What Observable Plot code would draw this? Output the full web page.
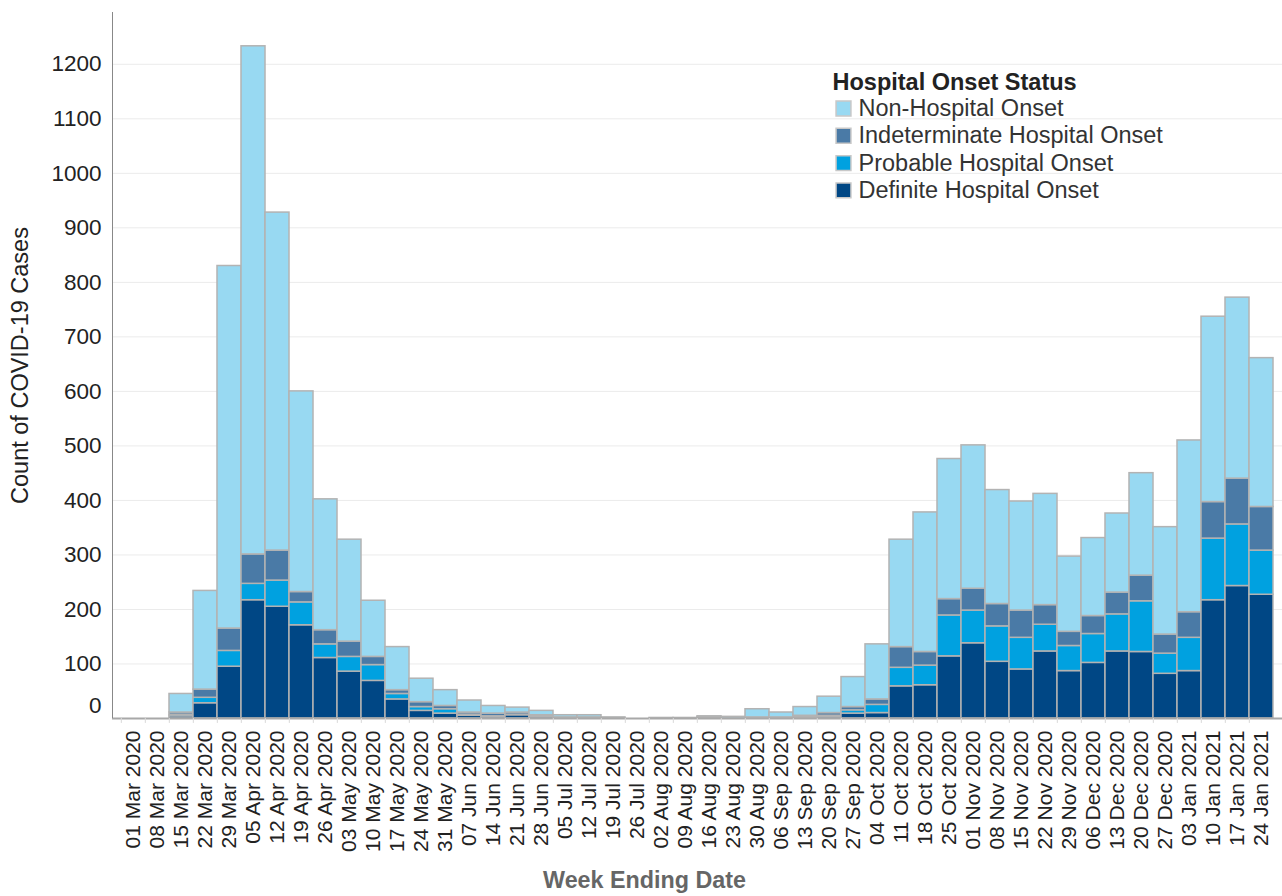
<!DOCTYPE html>
<html><head><meta charset="utf-8">
<script src="https://cdn.jsdelivr.net/npm/d3@7"></script>
<script src="https://cdn.jsdelivr.net/npm/@observablehq/plot@0.6"></script>
<style>body{margin:0;background:#fff;}</style>
</head><body><div id="chart"></div>
<script>
const weeks = ["01 Mar 2020","08 Mar 2020","15 Mar 2020","22 Mar 2020","29 Mar 2020","05 Apr 2020","12 Apr 2020","19 Apr 2020","26 Apr 2020","03 May 2020","10 May 2020","17 May 2020","24 May 2020","31 May 2020","07 Jun 2020","14 Jun 2020","21 Jun 2020","28 Jun 2020","05 Jul 2020","12 Jul 2020","19 Jul 2020","26 Jul 2020","02 Aug 2020","09 Aug 2020","16 Aug 2020","23 Aug 2020","30 Aug 2020","06 Sep 2020","13 Sep 2020","20 Sep 2020","27 Sep 2020","04 Oct 2020","11 Oct 2020","18 Oct 2020","25 Oct 2020","01 Nov 2020","08 Nov 2020","15 Nov 2020","22 Nov 2020","29 Nov 2020","06 Dec 2020","13 Dec 2020","20 Dec 2020","27 Dec 2020","03 Jan 2021","10 Jan 2021","17 Jan 2021","24 Jan 2021"];
const definite      = [0,0,4,28,95,217,205,171,111,86,69,35,14,9,5,3,6,3,1,1,0,0,0,0,1,0,1,1,2,3,9,10,59,61,114,138,104,90,123,87,102,123,122,82,87,217,243,227];
const probable      = [0,0,3,10,29,30,48,42,25,27,29,10,7,8,2,1,1,1,0,0,0,0,0,0,0,0,0,0,1,2,6,15,34,36,75,60,65,58,49,46,53,68,93,37,61,113,113,81];
const indeterminate = [0,0,4,15,41,54,55,19,26,28,15,7,9,6,4,5,4,2,1,1,0,0,0,0,1,0,1,1,2,5,6,10,38,25,30,40,41,50,36,26,33,40,47,35,47,67,84,80];
const nonHospital   = [0,0,34,181,665,932,620,368,240,187,103,79,43,29,22,14,9,8,4,4,2,0,1,1,2,3,15,9,16,30,55,101,197,256,257,263,209,200,204,138,143,145,188,197,315,340,332,273];
const statuses = ["Definite Hospital Onset","Probable Hospital Onset","Indeterminate Hospital Onset","Non-Hospital Onset"];
const colors = ["#004785","#00A1E0","#4A7AA6","#98D9F2"];
const legendOrder = ["Non-Hospital Onset","Indeterminate Hospital Onset","Probable Hospital Onset","Definite Hospital Onset"];
const yTicks = [100,200,300,400,500,600,700,800,900,1000,1100,1200];

const series = [definite, probable, indeterminate, nonHospital];
const rows = [];
weeks.forEach((w,i)=> statuses.forEach((s,k)=> rows.push({week:w, status:s, value:series[k][i]})));

const W=1282, H=896, ml=112, mt=12, mb=178, mr=0;
const chart = Plot.plot({
  width: W, height: H, marginLeft: ml, marginTop: mt, marginBottom: mb, marginRight: mr,
  style: {fontFamily: "'Liberation Sans', Arial, sans-serif", fontSize: "20px", color: "#222", background: "#fff"},
  x: {type: "band", domain: weeks, padding: 0, label: null, axis: null},
  y: {type: "linear", domain: [0, 1295], label: null, axis: null},
  color: {domain: statuses, range: colors},
  marks: [
    Plot.gridY(yTicks, {stroke: "#ebebeb", strokeOpacity: 1}),
    Plot.barY(rows, {x: "week", y: "value", fill: "status", stroke: "#b3b3b3", strokeWidth: 1.5}),
    Plot.ruleY([0], {stroke: "#a8a8a8", strokeWidth: 2}),
    Plot.ruleX({length: 1}, {x: null, y1: 0, y2: 1295, dx: -(W-ml-mr)/2, stroke: "#888"}),
    Plot.ruleX(weeks, {x: d => d, y1: 0, y2: -9, dx: -(W-ml-mr)/weeks.length/2, stroke: "#d8d8d8"}),
    Plot.text(yTicks, {y: d => d, text: d => String(d), frameAnchor: "left", textAnchor: "end", lineAnchor: "middle", dx: -11, fontSize: 22.5, fill: "#222"}),
    Plot.text([0], {y: d => d, text: d => String(d), frameAnchor: "left", textAnchor: "end", lineAnchor: "middle", dx: -11, dy: -13, fontSize: 22.5, fill: "#222"}),
    Plot.text(weeks, {x: d => d, text: d => d, frameAnchor: "bottom", rotate: -90, textAnchor: "end", lineAnchor: "middle", dy: 12, fontSize: 21, fill: "#222"}),
    Plot.text(["Count of COVID-19 Cases"], {frameAnchor: "left", rotate: -90, dx: -92, textAnchor: "middle", lineAnchor: "middle", fontSize: 23.5, fill: "#222"}),
    Plot.text(["Week Ending Date"], {frameAnchor: "bottom", dx: -53, dy: 162, textAnchor: "middle", lineAnchor: "middle", fontSize: 23.3, fontWeight: "bold", fill: "#666"}),
    Plot.text(["Hospital Onset Status"], {frameAnchor: "top-left", dx: 720, dy: 70, textAnchor: "start", lineAnchor: "middle", fontSize: 23.5, fontWeight: "bold", fill: "#222"}),
    ...legendOrder.flatMap((s, i) => [
      Plot.dot([s], {frameAnchor: "top-left", dx: 731, dy: 96 + 27.3*i, symbol: "square", r: 8.4, fill: d => d, stroke: "#c8c8c8"}),
      Plot.text([s], {frameAnchor: "top-left", dx: 746, dy: 96 + 27.3*i, textAnchor: "start", lineAnchor: "middle", fontSize: 23.5, fill: "#333"})
    ])
  ]
});
document.getElementById("chart").appendChild(chart);
</script>
</body></html>
